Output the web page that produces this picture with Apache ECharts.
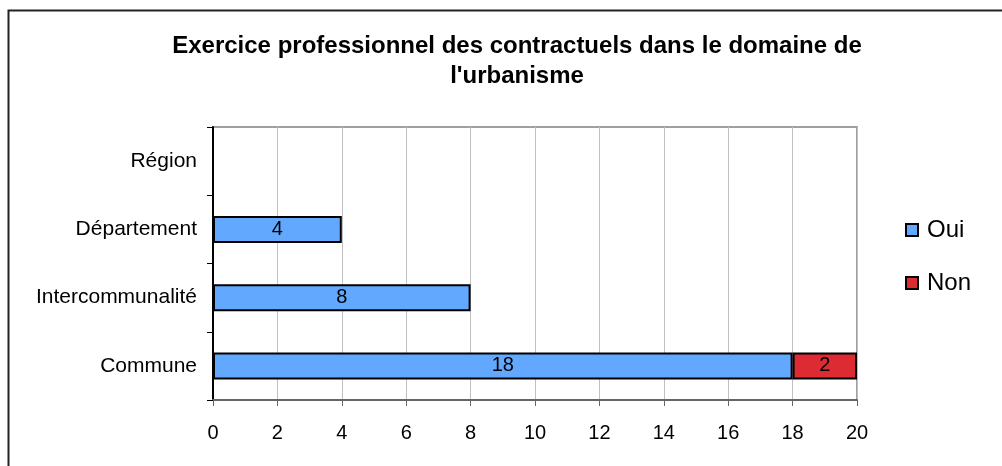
<!DOCTYPE html>
<html><head><meta charset="utf-8">
<script src="https://cdn.jsdelivr.net/npm/echarts@6/dist/echarts.min.js"></script>
<style>html,body{margin:0;padding:0;background:#fff}#c{width:1002px;height:466px}</style>
</head><body><div id="c"></div>
<script>
const categories = ['Commune', 'Intercommunalité', 'Département', 'Région'];
const oui = [18, 8, 4, null];
const non = [2, null, null, null];
const xTicks = [0, 2, 4, 6, 8, 10, 12, 14, 16, 18, 20];
const titleText = "Exercice professionnel des contractuels dans le domaine de\nl'urbanisme";

const chart = echarts.init(document.getElementById('c'), null, {renderer: 'canvas'});
const font = '"Liberation Sans", Arial, sans-serif';
const lbl = {show: true, position: 'inside', color: '#000', fontSize: 20, fontFamily: font,
  formatter: p => (p.value == null ? '' : p.value)};
chart.setOption({
  animation: false,
  graphic: [{type: 'rect', shape: {x: 8.5, y: 10.5, width: 1100, height: 600},
    style: {fill: 'none', stroke: '#222', lineWidth: 2}, z: -1}],
  title: {text: titleText, left: 512, top: 26, textAlign: 'center',
    textStyle: {fontFamily: font, fontWeight: 'bold', fontSize: 24, lineHeight: 30, color: '#000'}},
  legend: {orient: 'vertical', left: 900, top: 213, itemWidth: 12, itemHeight: 12, itemGap: 29,
    icon: 'rect', data: ['Oui', 'Non'],
    textStyle: {fontFamily: font, fontSize: 24, color: '#000', padding: [0, 0, 0, 4]}},
  grid: {left: 213, top: 127, right: 145, bottom: 66, show: true, borderColor: '#a0a0a0', borderWidth: 2},
  xAxis: {type: 'value', min: 0, max: 20, interval: 2,
    axisLine: {show: true, lineStyle: {color: '#666', width: 2}},
    axisTick: {show: true, length: 6, lineStyle: {color: '#666'}},
    axisLabel: {margin: 23, fontSize: 20, fontFamily: font, color: '#000',
      formatter: v => xTicks.includes(v) ? String(v) : ''},
    splitLine: {show: true, lineStyle: {color: '#c0c0c0', width: 1}}},
  yAxis: {type: 'category', data: categories,
    axisLine: {show: true, lineStyle: {color: '#000', width: 2}},
    axisTick: {show: true, length: 6, lineStyle: {color: '#000'}},
    axisLabel: {margin: 16, fontSize: 21, fontFamily: font, color: '#000'},
    splitLine: {show: false}},
  series: [
    {name: 'Oui', type: 'bar', stack: 's', data: oui, barWidth: 27,
      itemStyle: {color: '#63a8ff', borderColor: '#000', borderWidth: 2}, label: lbl},
    {name: 'Non', type: 'bar', stack: 's', data: non, barWidth: 27,
      itemStyle: {color: '#dd2b33', borderColor: '#000', borderWidth: 2}, label: lbl}
  ]
});
</script></body></html>
